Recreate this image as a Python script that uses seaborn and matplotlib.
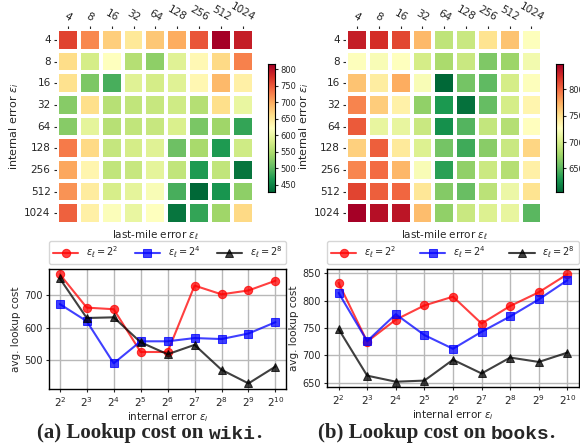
import matplotlib
matplotlib.use("Agg")
import matplotlib.pyplot as plt
import seaborn as sns
import pandas as pd

# error bounds (rows: internal error, columns: last-mile error)
errors = [4, 8, 16, 32, 64, 128, 256, 512, 1024]
exp_labels = [f"$2^{{{k}}}$" for k in range(2, 11)]

# avg. lookup cost on wiki, one list per internal error
wiki_cost = [
    [765, 720, 673, 650, 680, 700, 752, 815, 790],
    [662, 580, 620, 555, 530, 590, 630, 665, 725],
    [657, 520, 490, 590, 580, 590, 632, 690, 640],
    [525, 660, 558, 565, 570, 575, 555, 660, 600],
    [525, 595, 558, 565, 570, 585, 518, 540, 480],
    [730, 665, 568, 580, 590, 510, 547, 470, 575],
    [703, 635, 565, 570, 595, 565, 470, 565, 440],
    [715, 645, 582, 595, 615, 490, 428, 465, 530],
    [745, 640, 617, 600, 620, 440, 480, 540, 665],
]

# avg. lookup cost on books
books_cost = [
    [832, 825, 814, 770, 690, 695, 748, 765, 725],
    [725, 722, 726, 700, 680, 695, 663, 675, 718],
    [765, 740, 775, 722, 605, 660, 652, 700, 725],
    [791, 760, 737, 670, 630, 610, 654, 700, 735],
    [807, 712, 712, 695, 625, 648, 692, 685, 727],
    [758, 805, 743, 705, 660, 642, 667, 695, 755],
    [790, 800, 771, 722, 635, 670, 696, 685, 738],
    [815, 805, 802, 745, 665, 655, 688, 715, 748],
    [848, 840, 837, 768, 670, 695, 705, 712, 650],
]

# line plots pick these last-mile columns out of the tables
line_eps = [4, 16, 256]
line_labels = [r"$\epsilon_\ell = 2^2$", r"$\epsilon_\ell = 2^4$", r"$\epsilon_\ell = 2^8$"]
line_colors = ["red", "blue", "black"]
line_markers = ["o", "s", "^"]

wiki = pd.DataFrame(wiki_cost, index=errors, columns=errors)
books = pd.DataFrame(books_cost, index=errors, columns=errors)

sns.set_style("ticks")
plt.rcParams["font.family"] = ["DejaVu Sans"]
fig = plt.figure(figsize=(5.8, 4.48), dpi=100)


def draw_heatmap(df, rect, cbar_rect, cticks):
    ax = fig.add_axes(rect)
    cax = fig.add_axes(cbar_rect)
    sns.heatmap(df, ax=ax, cbar_ax=cax, cmap="RdYlGn_r",
                linewidths=1.5, linecolor="white")
    ax.xaxis.tick_top()
    ax.xaxis.set_label_position("bottom")
    ax.set_xticklabels(errors, rotation=-30, fontsize=7.5)
    ax.set_yticklabels(errors, rotation=0, fontsize=7.5)
    ax.tick_params(length=2.5, width=0.8, pad=2)
    ax.set_xlabel(r"last-mile error $\epsilon_\ell$", fontsize=7.5, labelpad=3)
    ax.set_ylabel(r"internal error $\epsilon_i$", fontsize=8, labelpad=2)
    cax.set_yticks(cticks)
    cax.tick_params(labelsize=6, length=2.5, width=0.8, pad=1.5)
    for s in cax.spines.values():
        s.set_visible(True)
        s.set_color("black")
    return ax


def draw_lines(df, rect):
    ax = fig.add_axes(rect)
    pos = list(range(len(errors)))
    for eps, lab, col, mk in zip(line_eps, line_labels, line_colors, line_markers):
        sns.lineplot(x=pos, y=df[eps].values, ax=ax, color=col, marker=mk,
                     markersize=6, markeredgecolor=col, linewidth=1.5,
                     alpha=0.75, label=lab)
    ax.set_xticks(pos)
    ax.set_xticklabels(exp_labels, fontsize=7.5)
    ax.tick_params(axis="y", labelsize=7)
    ax.tick_params(length=2.5, width=0.8, pad=2)
    ax.grid(True, color="#b8b8b8", linewidth=1)
    for s in ax.spines.values():
        s.set_color("black")
        s.set_linewidth(1)
    ax.set_xlabel(r"internal error $\epsilon_i$", fontsize=7.5, labelpad=1)
    ax.set_ylabel("avg. lookup cost", fontsize=7.5, labelpad=2)
    ax.legend(ncol=3, loc="lower left", bbox_to_anchor=(0.0, 1.04, 1.0, 0.15),
              mode="expand", borderaxespad=0, fontsize=7, handlelength=2.6,
              frameon=True, edgecolor="#cccccc", fancybox=True)
    return ax


def caption(x0, prefix, name):
    # serif bold text, dataset name in typewriter, then the full stop
    t = fig.text(x0, 0.022, prefix, ha="left", va="baseline", fontsize=15,
                 fontweight="bold", family=["Liberation Serif"])
    a = plt.annotate(name, xy=(1, 0), xycoords=t, va="bottom", ha="left",
                     fontsize=14, fontweight="bold", family=["Liberation Mono"],
                     annotation_clip=False)
    plt.annotate(".", xy=(1, 0), xycoords=a, va="bottom", ha="left",
                 fontsize=15, fontweight="bold", family=["Liberation Serif"],
                 annotation_clip=False)


draw_heatmap(wiki, [0.098, 0.5, 0.340, 0.435], [0.462, 0.571, 0.012, 0.286],
             [450, 500, 550, 600, 650, 700, 750, 800])
draw_heatmap(books, [0.597, 0.5, 0.338, 0.435], [0.959, 0.571, 0.012, 0.286],
             [650, 700, 750, 800])

draw_lines(wiki, [0.0845, 0.132, 0.409, 0.268])
draw_lines(books, [0.564, 0.136, 0.434, 0.264])

caption(0.064, "(a) Lookup cost on ", "wiki")
caption(0.548, "(b) Lookup cost on ", "books")

fig.savefig("out.png", dpi=100)
